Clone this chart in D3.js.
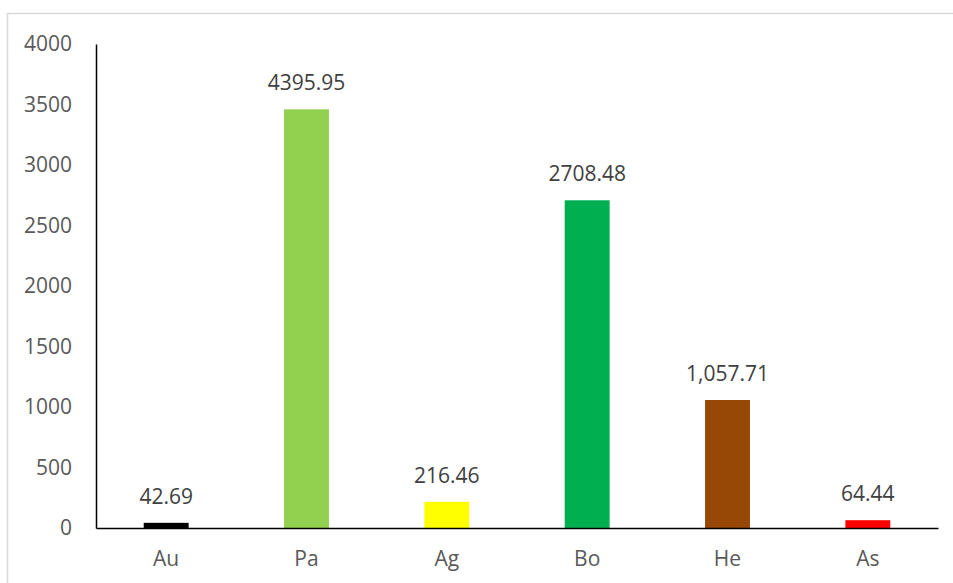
<!DOCTYPE html>
<html>
<head>
<meta charset="utf-8">
<script src="https://cdn.jsdelivr.net/npm/d3@7"></script>
<style>
  body { margin: 0; background: #fff; }
  svg { display: block; font-family: "Open Sans", sans-serif; }
</style>
</head>
<body>
<div id="chart"></div>
<script>
// data
var categories = ["Au", "Pa", "Ag", "Bo", "He", "As"];
var values = [42.69, 3460, 216.46, 2708.48, 1057.71, 64.44];   // bar heights as drawn
var labels = ["42.69", "4395.95", "216.46", "2708.48", "1,057.71", "64.44"];
var colors = ["#000000", "#92d050", "#ffff00", "#00b050", "#974706", "#ff0000"];
var yTicks = [0, 500, 1000, 1500, 2000, 2500, 3000, 3500, 4000];

var w = 953, h = 583;
var svg = d3.select("#chart").append("svg")
    .attr("width", w)
    .attr("height", h);

// chart frame
svg.append("rect")
    .attr("x", 7.5).attr("y", 13.5)
    .attr("width", 960).attr("height", 600)
    .style("fill", "none")
    .style("stroke", "#d9d9d9")
    .style("stroke-width", 1.5);

var x = d3.scaleBand()
    .domain(categories)
    .range([96, 938])
    .paddingInner(0.68)
    .paddingOuter(0.34);

var y = d3.scaleLinear()
    .domain([0, 4000])
    .range([528, 44]);

// y axis
var yAxis = svg.append("g")
    .attr("transform", "translate(96,0)")
    .call(d3.axisLeft(y).tickValues(yTicks).tickFormat(d3.format("d")).tickSize(0).tickPadding(24));
yAxis.select(".domain").style("stroke", "#000").style("stroke-width", 1.5);
yAxis.selectAll("text")
    .style("font-family", "'Open Sans', sans-serif")
    .style("font-size", "21px")
    .style("fill", "#595959");

// bars
svg.selectAll(".bar")
    .data(categories)
    .enter().append("rect")
    .attr("class", "bar")
    .attr("x", function(d) { return x(d); })
    .attr("width", x.bandwidth())
    .attr("y", function(d, i) { return y(values[i]); })
    .attr("height", function(d, i) { return y(0) - y(values[i]); })
    .style("fill", function(d, i) { return colors[i]; });

// x axis
var xAxis = svg.append("g")
    .attr("transform", "translate(0,528)")
    .call(d3.axisBottom(x).tickSize(0).tickPadding(23));
xAxis.select(".domain").style("stroke", "#000").style("stroke-width", 1.5);
xAxis.selectAll("text")
    .style("font-family", "'Open Sans', sans-serif")
    .style("font-size", "21px")
    .style("fill", "#595959");

// data labels
svg.selectAll(".lbl")
    .data(categories)
    .enter().append("text")
    .attr("class", "lbl")
    .attr("x", function(d) { return x(d) + x.bandwidth() / 2; })
    .attr("y", function(d, i) { return y(values[i]) - 19; })
    .attr("text-anchor", "middle")
    .style("font-size", "21px")
    .style("fill", "#404040")
    .text(function(d, i) { return labels[i]; });
</script>
</body>
</html>
